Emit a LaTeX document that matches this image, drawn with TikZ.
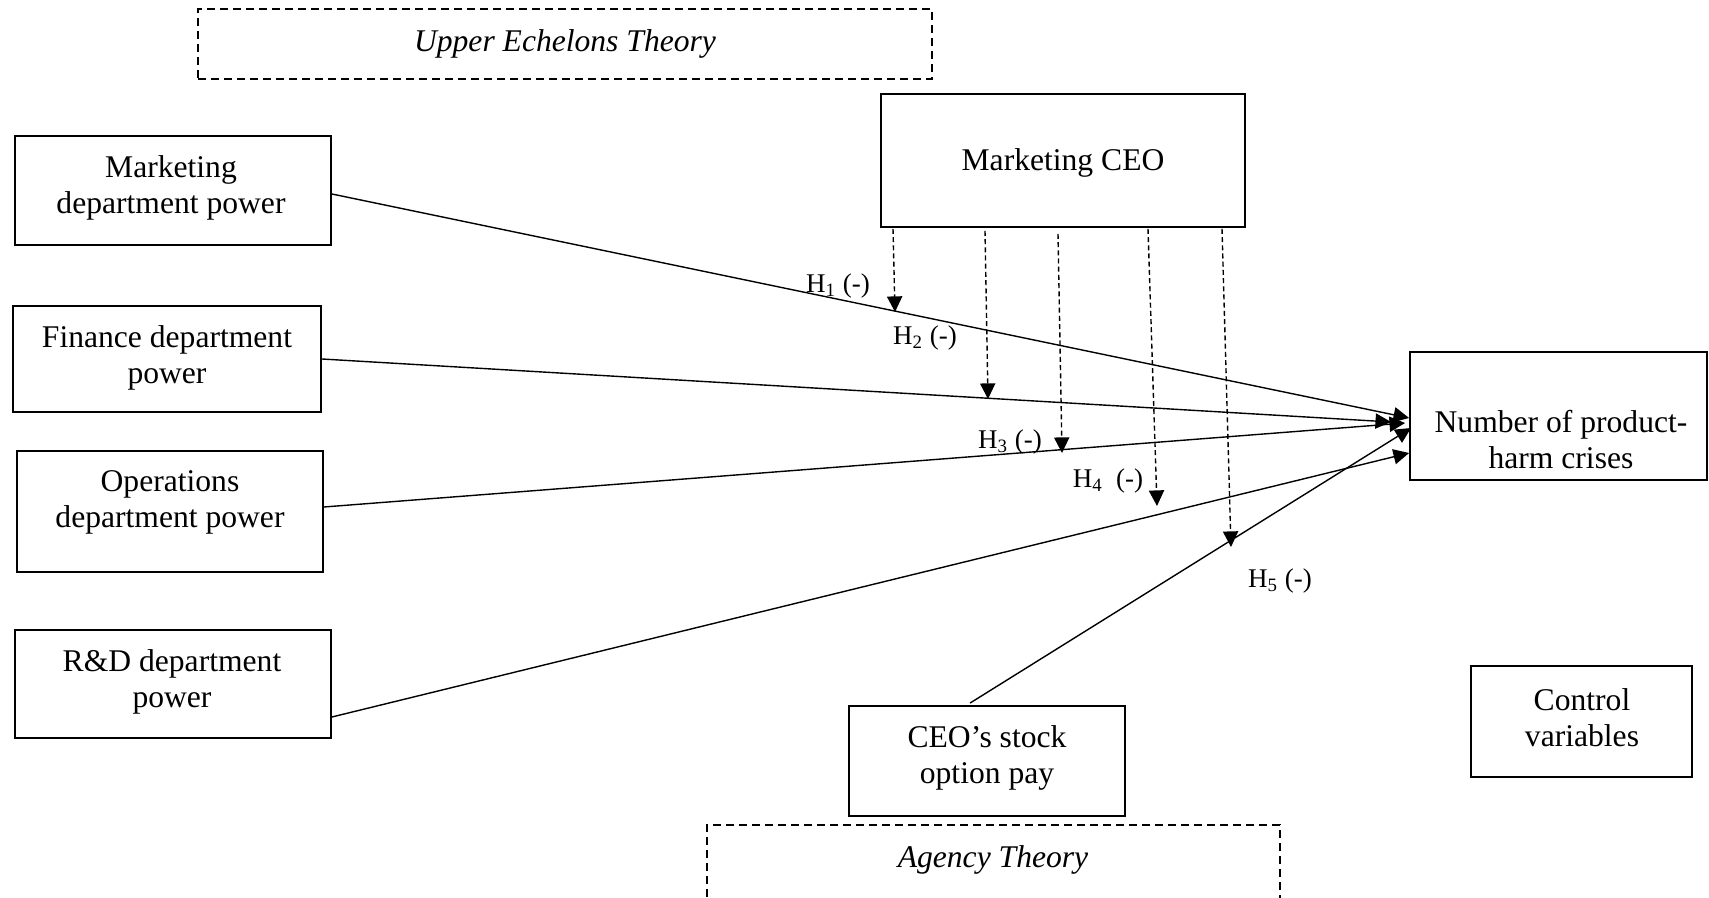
\documentclass[tikz,border=0pt]{standalone}
\usepackage{fontspec}
\setmainfont{Liberation Serif}
\usetikzlibrary{arrows.meta,calc}

\begin{document}
\begin{tikzpicture}[x=0.5pt,y=-0.5pt,
  box/.style={draw, rectangle, line width=0.9pt, inner sep=0pt},
  theory/.style={draw, rectangle, line width=0.7pt, dash pattern=on 4pt off 2.5pt, inner sep=0pt},
  txt/.style={align=center, inner sep=0pt, yshift=-1.5pt, font=\fontsize{15.8}{18}\selectfont},
  hyp/.style={inner sep=0pt, font=\fontsize{13.5}{15}\selectfont},
  link/.style={line width=0.7pt, -{Triangle[length=7.8pt,width=7.6pt]}},
  moderate/.style={line width=0.7pt, dash pattern=on 2.5pt off 1.6pt, -{Triangle[length=7.8pt,width=7.6pt]}}
]
\useasboundingbox (0,0) rectangle (1709,898);

% theory frames
\node[theory, minimum width=367pt, minimum height=35pt] (ue) at (565,44) {};
\node[txt, font=\fontsize{15.8}{18}\selectfont\itshape] (ue-t) at (565,41) {Upper Echelons Theory};
\node[theory, minimum width=286.5pt, minimum height=45pt] (ag) at (993.5,870) {};
\node[txt, font=\fontsize{15.8}{18}\selectfont\itshape] (ag-t) at (993,857) {Agency Theory};

% moderator boxes
\node[box, minimum width=182pt, minimum height=66.5pt] (ceo) at (1063,160.5) {};
\node[txt] (ceo-t) at (1063,160) {Marketing CEO};
\node[box, minimum width=138pt, minimum height=55pt] (stock) at (987,761) {};
\node[txt] (stock-t) at (987,755) {CEO's stock\\option pay};

% department power boxes
\node[box, minimum width=158pt, minimum height=54.5pt] (mkt) at (173,190.5) {};
\node[txt] (mkt-t) at (171,184.5) {Marketing\\department power};
\node[box, minimum width=154pt, minimum height=53pt] (fin) at (167,359) {};
\node[txt] (fin-t) at (167,354.5) {Finance department\\power};
\node[box, minimum width=153pt, minimum height=60.5pt] (ops) at (170,511.5) {};
\node[txt] (ops-t) at (170,499) {Operations\\department power};
\node[box, minimum width=158pt, minimum height=54pt] (rd) at (173,684) {};
\node[txt] (rd-t) at (172,679) {R\&D department\\power};

% outcome and controls
\node[box, minimum width=148.5pt, minimum height=64pt] (num) at (1558.5,416) {};
\node[txt] (num-t) at (1561,436.5) {Number of product-\\harm crises};
\node[box, minimum width=110.5pt, minimum height=55.5pt] (ctrl) at (1581.5,721.5) {};
\node[txt] (ctrl-t) at (1582,715) {Control\\variables};

% main effects
\draw[link] ($(mkt.east)+(0,3.5)$) -- ($(num.west)+(0,2)$);
\draw[link] (fin.east) -- ($(num.west)+(-18,6)$);
\draw[link] ($(ops.east)+(0,-4.5)$) -- ($(num.west)+(-4,7)$);
\draw[link] ($(rd.east)+(0,33)$) -- ($(num.west)+(0,37)$);
\draw[link] ($(stock.north)+(-17,-2)$) -- ($(num.west)+(2,12)$);

% moderating effects of the marketing CEO
\coordinate (m1) at (895,312);
\coordinate (m2) at (988,399);
\coordinate (m3) at (1062,453);
\coordinate (m4) at (1157,506);
\coordinate (m5) at (1231,547);
\draw[moderate] ($(ceo.south)+(-170,1)$) -- (m1);
\draw[moderate] ($(ceo.south)+(-78,3)$) -- (m2);
\draw[moderate] ($(ceo.south)+(-5,6)$) -- (m3);
\draw[moderate] ($(ceo.south)+(85,1)$) -- (m4);
\draw[moderate] ($(ceo.south)+(159,1)$) -- (m5);

% hypothesis labels
\node[hyp] (h1) at (838,286) {H\textsubscript{1} (-)};
\node[hyp] (h2) at (925,338) {H\textsubscript{2} (-)};
\node[hyp] (h3) at (1010,442) {H\textsubscript{3} (-)};
\node[hyp] (h4) at (1108,481) {H\textsubscript{4}~ (-)};
\node[hyp] (h5) at (1280,581) {H\textsubscript{5} (-)};
\end{tikzpicture}
\end{document}
